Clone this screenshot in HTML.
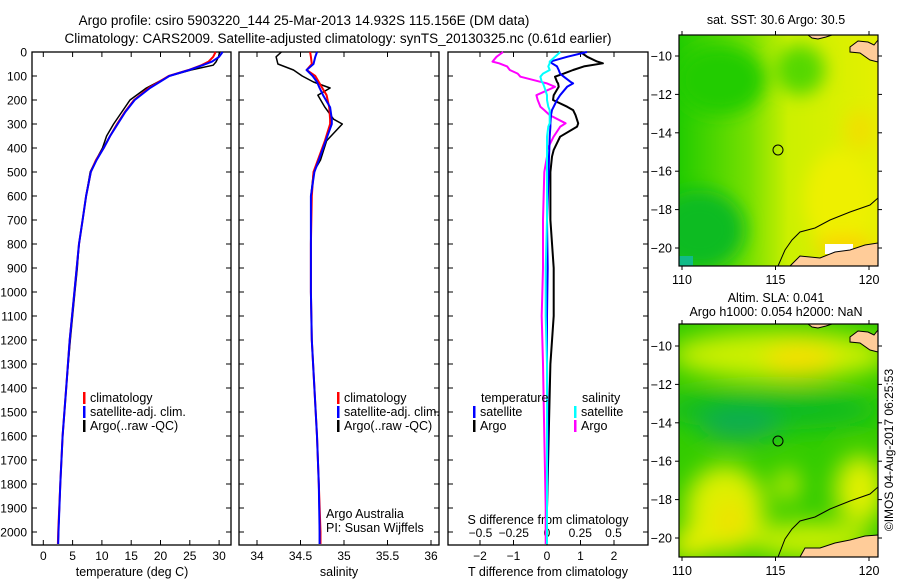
<!DOCTYPE html>
<html><head><meta charset="utf-8"><style>
body{margin:0;background:#fff;}
svg{display:block;font-family:"Liberation Sans",sans-serif;}
</style></head><body>
<svg id="fig" width="900" height="580" viewBox="0 0 900 580">
<defs>
<filter id="blur1" x="-50%" y="-50%" width="200%" height="200%"><feGaussianBlur stdDeviation="9"/></filter>
<filter id="blur2" x="-50%" y="-50%" width="200%" height="200%"><feGaussianBlur stdDeviation="12"/></filter>
<clipPath id="clipM1"><rect x="679" y="35" width="199" height="231"/></clipPath>
<clipPath id="clipM2"><rect x="679" y="324" width="199" height="233"/></clipPath>
<linearGradient id="g1" x1="0" y1="0" x2="1" y2="0"><stop offset="0" stop-color="#22cc00"/><stop offset="0.35" stop-color="#77e000"/><stop offset="0.55" stop-color="#ccf000"/><stop offset="1" stop-color="#e4f000"/></linearGradient>
</defs>
<g font-size="13.5" fill="#000" text-anchor="middle">
<text x="304" y="25">Argo profile: csiro 5903220_144 25-Mar-2013 14.932S 115.156E (DM data)</text>
<text x="338" y="43">Climatology: CARS2009. Satellite-adjusted climatology: synTS_20130325.nc (0.61d earlier)</text>
</g>
<g id="panels"></g>
<!-- Map 1 -->
<g>
<text x="776" y="24" font-size="12.5" text-anchor="middle">sat. SST: 30.6 Argo: 30.5</text>
<g clip-path="url(#clipM1)">
<rect x="679" y="35" width="199" height="231" fill="url(#g1)"/>
<g filter="url(#blur1)">
<ellipse cx="720" cy="80" rx="45" ry="35" fill="#22cc00"/>
<ellipse cx="700" cy="230" rx="45" ry="40" fill="#11bb22"/>
<ellipse cx="800" cy="70" rx="25" ry="25" fill="#55d800"/>
<ellipse cx="840" cy="200" rx="35" ry="50" fill="#eef000"/>
<ellipse cx="860" cy="130" rx="15" ry="20" fill="#f0e000"/>
<ellipse cx="845" cy="245" rx="30" ry="8" fill="#ffcc00"/>
</g>
<rect x="679" y="256" width="14" height="10" fill="#11bb88"/>
<rect x="825" y="244" width="28" height="10" fill="#fff"/>
<polygon points="790,266 800,256 820,258 835,252 850,250 865,245 878,243 878,266" fill="#ffcc99" stroke="#000" stroke-width="1"/>
<polygon points="850,47 858,41 868,42 874,45 878,40 878,62 870,60 860,53 850,52" fill="#ffcc99" stroke="#000" stroke-width="1"/>
<polygon points="808,35 812,38 818,39 826,37 832,35" fill="#ffcc99" stroke="#000" stroke-width="1"/>
<polyline points="878,198 870,205 850,212 830,220 815,228 800,232 792,240 785,250 778,266" fill="none" stroke="#000" stroke-width="1"/>
<circle cx="778" cy="150" r="5" fill="none" stroke="#000" stroke-width="1"/>
</g>
<rect x="679" y="35" width="199" height="231" fill="none" stroke="#000" stroke-width="1.2"/>
</g>
<!-- Map 2 -->
<g>
<text x="776" y="302" font-size="12.5" text-anchor="middle">Altim. SLA: 0.041</text>
<text x="776" y="316" font-size="12.5" text-anchor="middle">Argo h1000: 0.054 h2000: NaN</text>
<g clip-path="url(#clipM2)">
<rect x="679" y="324" width="199" height="233" fill="#33cc00"/>
<g filter="url(#blur2)">
<ellipse cx="780" cy="355" rx="110" ry="25" fill="#ccf000"/>
<ellipse cx="800" cy="360" rx="35" ry="18" fill="#f4e000"/>
<ellipse cx="770" cy="410" rx="110" ry="20" fill="#11bb22"/>
<ellipse cx="740" cy="425" rx="40" ry="15" fill="#11aa55"/>
<ellipse cx="725" cy="510" rx="40" ry="45" fill="#ddf000"/>
<ellipse cx="730" cy="520" rx="15" ry="20" fill="#f0e000"/>
<ellipse cx="787" cy="485" rx="12" ry="16" fill="#ccee00"/>
<ellipse cx="860" cy="490" rx="25" ry="35" fill="#e0f000"/>
<ellipse cx="810" cy="540" rx="60" ry="18" fill="#ccf000"/>
<ellipse cx="690" cy="545" rx="20" ry="15" fill="#eef000"/>
</g>
<polygon points="800,557 805,548 820,548 835,543 850,540 865,536 878,535 878,557" fill="#ffcc99" stroke="#000" stroke-width="1"/>
<polygon points="850,337 858,331 868,332 874,335 878,330 878,352 870,350 860,343 850,342" fill="#ffcc99" stroke="#000" stroke-width="1"/>
<polygon points="808,324 812,327 818,328 826,326 832,324" fill="#ffcc99" stroke="#000" stroke-width="1"/>
<polyline points="878,487 870,494 850,501 830,509 815,517 800,521 792,529 785,539 778,557" fill="none" stroke="#000" stroke-width="1"/>
<circle cx="778" cy="441" r="5" fill="none" stroke="#000" stroke-width="1"/>
</g>
<rect x="679" y="324" width="199" height="233" fill="none" stroke="#000" stroke-width="1.2"/>
</g>
<text transform="translate(893,450) rotate(-90)" font-size="12" text-anchor="middle">©IMOS 04-Aug-2017 06:25:53</text>
<g id="mapaxes"></g>
</svg>
<script>
// ---- data ----
var tempDepth = [0, 20, 40, 55, 75, 100, 150, 200, 250, 300, 350, 400, 450, 500, 600, 700, 800, 900, 1000, 1200, 1400, 1600, 1800, 2000, 2050];
var tempClim  = [29.4, 29.0, 28.2, 27.0, 24.8, 21.4, 18.0, 15.5, 13.9, 12.6, 11.4, 10.3, 9.0, 8.1, 7.3, 6.7, 6.1, 5.7, 5.3, 4.5, 3.9, 3.3, 2.9, 2.55, 2.5];
var tempSat   = [30.6, 30.0, 28.8, 27.2, 24.9, 21.5, 18.2, 15.6, 14.0, 12.7, 11.4, 10.3, 9.1, 8.1, 7.3, 6.7, 6.1, 5.7, 5.3, 4.5, 3.9, 3.3, 2.9, 2.6, 2.55];
var tempArgo  = [30.1, 29.9, 29.5, 29.0, 25.2, 21.5, 17.6, 14.8, 13.4, 12.0, 10.8, 10.1, 9.0, 8.0, 7.3, 6.7, 6.1, 5.8, 5.4, 4.6, 3.9, 3.3, 2.9, 2.6, 2.55];
var salDepth = [0, 20, 50, 75, 100, 125, 150, 180, 230, 280, 300, 370, 450, 500, 600, 800, 1000, 1200, 1400, 1600, 1800, 2000, 2050];
var salClim  = [34.61, 34.62, 34.63, 34.57, 34.67, 34.71, 34.75, 34.80, 34.83, 34.84, 34.84, 34.78, 34.70, 34.65, 34.63, 34.62, 34.62, 34.63, 34.66, 34.69, 34.71, 34.73, 34.73];
var salSat   = [34.69, 34.67, 34.65, 34.57, 34.64, 34.69, 34.72, 34.76, 34.84, 34.86, 34.86, 34.79, 34.71, 34.66, 34.62, 34.62, 34.62, 34.63, 34.66, 34.69, 34.71, 34.72, 34.72];
var salArgo  = [34.28, 34.22, 34.24, 34.42, 34.52, 34.65, 34.84, 34.70, 34.78, 34.88, 34.98, 34.80, 34.73, 34.65, 34.62, 34.62, 34.62, 34.63, 34.66, 34.69, 34.71, 34.72, 34.72];
var diffDepth = [0, 20, 40, 47, 60, 75, 90, 103, 124, 131, 145, 180, 200, 228, 242, 263, 297, 311, 353, 408, 436, 500, 700, 900, 1100, 1300, 1600, 1900, 2050];
var tDiffSat  = [1.19, 0.6, 0.1, 0.15, 0.3, 0.35, 0.39, 0.5, 0.7, 0.78, 0.6, 0.39, 0.3, 0.2, 0.15, 0.12, 0.1, 0.1, 0.08, 0.07, 0.06, 0.05, 0.0, 0.02, 0.0, 0.0, 0.02, 0.0, 0.0];
var tDiffArgo = [1.0, 1.2, 1.5, 1.67, 1.1, 0.78, 0.5, 0.24, 0.3, 0.33, 0.35, 0.2, 0.18, 0.6, 0.78, 0.85, 0.93, 0.9, 0.39, 0.2, 0.15, 0.1, 0.1, 0.2, 0.2, 0.1, 0.05, 0.0, 0.0];
var sDiffSat  = [0.10, 0.06, 0.02, 0.02, 0.01, 0.02, -0.03, -0.05, -0.04, -0.03, -0.02, 0.0, 0.0, 0.01, 0.02, 0.02, 0.02, 0.01, 0.0, 0.0, 0.0, 0.0, 0.0, -0.01, -0.01, 0.0, 0.0, 0.0, 0.0];
var sDiffArgo = [-0.33, -0.38, -0.41, -0.36, -0.30, -0.28, -0.22, -0.2, -0.05, 0.0, 0.06, -0.08, -0.07, -0.05, -0.02, 0.02, 0.14, 0.1, 0.05, 0.0, 0.0, -0.02, -0.03, -0.03, -0.04, -0.03, -0.02, -0.01, -0.01];
var depthTicks = [0,100,200,300,400,500,600,700,800,900,1000,1100,1200,1300,1400,1500,1600,1700,1800,1900,2000];
var tempTicks = [0,5,10,15,20,25,30];
var salTicks = [34,34.5,35,35.5,36];
var tDiffTicks = [-2,-1,0,1,2];
var sDiffTicks = [-0.5,-0.25,0,0.25,0.5];
var lonTicks = [110,115,120];
var latTicks = [-10,-12,-14,-16,-18,-20];

var NS='http://www.w3.org/2000/svg';
var PT=52, PB=545;
function yD(d){return 52 + d*0.24;}
function xT(t){return 43.3 + t*5.86;}
function xS(s){return 257 + (s-34)*87;}
function xTD(t){return 547 + t*33.5;}
function xSD(s){return 547 + s*133;}
var root=document.getElementById('panels');
function mk(tag,attrs,parent){var e=document.createElementNS(NS,tag);for(var k in attrs)e.setAttribute(k,attrs[k]);(parent||root).appendChild(e);return e;}
function txt(x,y,s,anchor,size,parent){var e=mk('text',{x:x,y:y,'text-anchor':anchor||'middle','font-size':size||12},parent);e.textContent=s;return e;}
function line(depths,vals,fx,color,w,name){
  var pts=[];for(var i=0;i<depths.length;i++){pts.push(fx(vals[i]).toFixed(1)+','+yD(depths[i]).toFixed(1));}
  var p=mk('polyline',{points:pts.join(' '),fill:'none',stroke:color,'stroke-width':w,'stroke-linejoin':'round'});
  
  
}
var panels=[[32,231],[239,439],[448,648]];
for (var p=0;p<3;p++){
  var L=panels[p][0],R=panels[p][1];
  var fr=mk('rect',{x:L,y:PT,width:R-L,height:PB-PT,fill:'none',stroke:'#000','stroke-width':1.3});
  
  
  for (var i=0;i<depthTicks.length;i++){
    var y=yD(depthTicks[i]);
    mk('line',{x1:L,x2:L+5,y1:y,y2:y,stroke:'#000'});
    mk('line',{x1:R-5,x2:R,y1:y,y2:y,stroke:'#000'});
  }
}
for (var i=0;i<depthTicks.length;i++){
  var t=txt(27,yD(depthTicks[i])+4.5,String(depthTicks[i]),'end',12);
  
  
}
function xticks(ticks,fx,L,R,labY,fmt){
  for(var i=0;i<ticks.length;i++){var x=fx(ticks[i]);
    mk('line',{x1:x,x2:x,y1:PB-5,y2:PB,stroke:'#000'});
    mk('line',{x1:x,x2:x,y1:PT,y2:PT+5,stroke:'#000'});
    var lab=fmt?fmt(ticks[i]):String(ticks[i]);
    var t=txt(x,labY,lab.replace('-','\u2212'),'middle',12);
    
    
  }
}
xticks(tempTicks,xT,32,231,560);
xticks(salTicks,xS,239,439,560);
xticks(tDiffTicks,xTD,448,648,560);
for(var i=0;i<sDiffTicks.length;i++){var x=xSD(sDiffTicks[i]);
  var t=txt(x,537,String(sDiffTicks[i]).replace('-','\u2212').replace('0.25','0.25'),'middle',12);
  
  
}
var a=txt(132,576,'temperature (deg C)','middle',12.5);
a=txt(339,576,'salinity','middle',12.5);
a=txt(548,576,'T difference from climatology','middle',12.5);
a=txt(548,524,'S difference from climatology','middle',12.5);

// series
line(tempDepth,tempArgo,xT,'#000',1.5,'temp-argo-line');
line(tempDepth,tempClim,xT,'#f00',2,'temp-climatology-line');
line(tempDepth,tempSat,xT,'#00f',2,'temp-satellite-line');
line(salDepth,salArgo,xS,'#000',1.5,'sal-argo-line');
line(salDepth,salClim,xS,'#f00',2,'sal-climatology-line');
line(salDepth,salSat,xS,'#00f',2,'sal-satellite-line');
line(diffDepth,sDiffArgo,xSD,'#f0f',2,'s-diff-argo-line');
line(diffDepth,tDiffArgo,xTD,'#000',2,'t-diff-argo-line');
line(diffDepth,tDiffSat,xTD,'#00f',2,'t-diff-satellite-line');
line(diffDepth,sDiffSat,xSD,'#0ff',2,'s-diff-satellite-line');

// legends
function legend(x,y,color,label,name){
  mk('rect',{x:x,y:y-10,width:2.5,height:12,fill:color});
  var t=txt(x+7,y,label,'start',12.5);
  
  
}
legend(83,402,'#f00','climatology','legend-climatology');
legend(83,416,'#00f','satellite-adj. clim.','legend-satellite-adj');
legend(83,430,'#000','Argo(..raw -QC)','legend-argo');
legend(337,402,'#f00','climatology','legend-climatology-2');
legend(337,416,'#00f','satellite-adj. clim.','legend-satellite-adj-2');
legend(337,430,'#000','Argo(..raw -QC)','legend-argo-2');
a=txt(481,402,'temperature','start',12.5);
a=txt(582,402,'salinity','start',12.5);
legend(473,416,'#00f','satellite','legend-t-satellite');
legend(473,430,'#000','Argo','legend-t-argo');
legend(574,416,'#0ff','satellite','legend-s-satellite');
legend(574,430,'#f0f','Argo','legend-s-argo');
a=txt(326,518,'Argo Australia','start',12.5);
a=txt(326,532,'PI: Susan Wijffels','start',12.5);

// map axes
var ma=document.getElementById('mapaxes');
function lonX(l){return 682 + (l-110)*18.7;}
function mapAxes(top,bottom,lat10){
  for(var i=0;i<lonTicks.length;i++){var x=lonX(lonTicks[i]);
    mk('line',{x1:x,x2:x,y1:bottom,y2:bottom+4,stroke:'#000'},ma);
    mk('line',{x1:x,x2:x,y1:top-4,y2:top,stroke:'#000'},ma);
    var t=txt(x,bottom+18,String(lonTicks[i]),'middle',12.5,ma);
    
    
  }
  for(var i=0;i<latTicks.length;i++){var y=lat10+(-10-latTicks[i])*19.2;
    mk('line',{x1:675,x2:679,y1:y,y2:y,stroke:'#000'},ma);
    mk('line',{x1:878,x2:882,y1:y,y2:y,stroke:'#000'},ma);
    var t=txt(672,y+4.5,String(latTicks[i]).replace('-','\u2212'),'end',12.5,ma);
    
    
  }
}
mapAxes(35,266,56);
mapAxes(324,557,346);
</script>
</body></html>
